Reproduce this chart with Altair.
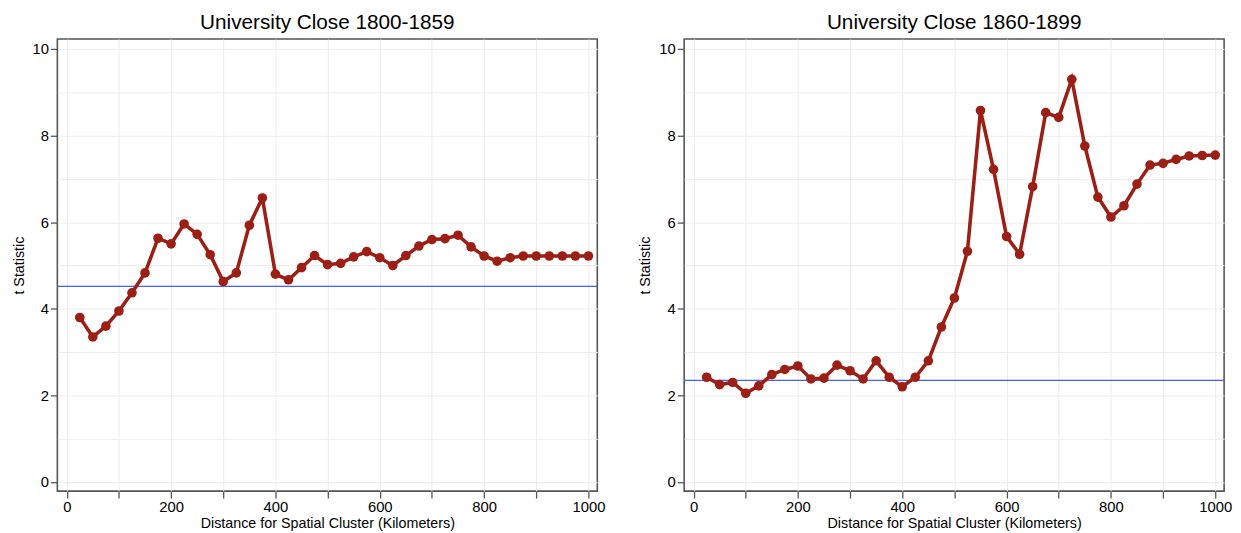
import altair as alt
import pandas as pd

distance_km = [25, 50, 75, 100, 125, 150, 175, 200, 225, 250,
               275, 300, 325, 350, 375, 400, 425, 450, 475, 500,
               525, 550, 575, 600, 625, 650, 675, 700, 725, 750,
               775, 800, 825, 850, 875, 900, 925, 950, 975, 1000]

t_1800_1859 = [3.80, 3.35, 3.60, 3.95, 4.37, 4.83, 5.63, 5.50, 5.96, 5.72,
               5.25, 4.63, 4.83, 5.93, 6.56, 4.80, 4.67, 4.95, 5.23, 5.02,
               5.05, 5.20, 5.32, 5.18, 5.00, 5.23, 5.45, 5.60, 5.62, 5.70,
               5.43, 5.22, 5.10, 5.18, 5.22, 5.22, 5.22, 5.22, 5.22, 5.22]

t_1860_1899 = [2.42, 2.25, 2.30, 2.05, 2.22, 2.48, 2.60, 2.68, 2.38, 2.40,
               2.70, 2.57, 2.38, 2.80, 2.42, 2.20, 2.42, 2.80, 3.58, 4.25,
               5.33, 8.58, 7.22, 5.67, 5.26, 6.82, 8.53, 8.42, 9.30, 7.76,
               6.58, 6.12, 6.38, 6.88, 7.32, 7.36, 7.45, 7.53, 7.54, 7.55]

panel_titles = ["University Close 1800-1859", "University Close 1860-1899"]
thresholds = [4.52, 2.35]

FONT = "Liberation Sans"
LINE_COLOR = "#9c1f16"
RULE_COLOR = "#4262f5"


def panel(title, values, thresh):
    df = pd.DataFrame({"d": distance_km, "t": values})
    xs = alt.X(
        "d:Q",
        scale=alt.Scale(domain=[-18, 1017], nice=False, zero=False),
        axis=alt.Axis(
            title="Distance for Spatial Cluster (Kilometers)",
            values=list(range(0, 1001, 100)),
            labelExpr="datum.value % 200 == 0 ? datum.label : ''",
            format="d",
            labelPadding=2,
            titlePadding=2,
        ),
    )
    ys = alt.Y(
        "t:Q",
        scale=alt.Scale(domain=[-0.21, 10.23], nice=False, zero=False),
        axis=alt.Axis(
            title="t Statistic",
            values=list(range(0, 11)),
            labelExpr="datum.value % 2 == 0 ? datum.label : ''",
            tickOpacity={"condition": {"test": "datum.value % 2 == 0", "value": 1}, "value": 0},
        ),
    )
    base = alt.Chart(df)
    line = base.mark_line(color=LINE_COLOR, strokeWidth=3.6).encode(x=xs, y=ys)
    pts = base.mark_circle(color=LINE_COLOR, size=95, opacity=1).encode(x="d:Q", y="t:Q")
    rule = alt.Chart(pd.DataFrame({"thr": [thresh]})).mark_rule(
        color=RULE_COLOR, strokeWidth=1.3
    ).encode(y="thr:Q")
    return alt.layer(rule, line, pts).properties(
        width=547, height=458,
        title=alt.TitleParams(title, fontSize=21, font=FONT, fontWeight="normal",
                              color="#000000", offset=6),
    )


chart = alt.hconcat(
    panel(panel_titles[0], t_1800_1859, thresholds[0]),
    panel(panel_titles[1], t_1860_1899, thresholds[1]),
    spacing=31,
).configure(
    padding={"left": 2, "top": 0, "right": 0, "bottom": 0},
    background="#ffffff",
).configure_view(
    stroke="#555555", strokeWidth=1.6,
).configure_axis(
    domain=False,
    grid=True,
    gridColor="#ececec",
    gridWidth=1,
    tickColor="#555555",
    tickWidth=1.3,
    tickSize=7,
    labelFont=FONT,
    labelFontSize=15,
    labelColor="#000000",
    labelPadding=2,
    titleFont=FONT,
    titleFontSize=14.5,
    titleFontWeight="normal",
    titleColor="#000000",
    titlePadding=6,
)

chart.save("out.html", embed_options={"renderer": "svg", "actions": False})
